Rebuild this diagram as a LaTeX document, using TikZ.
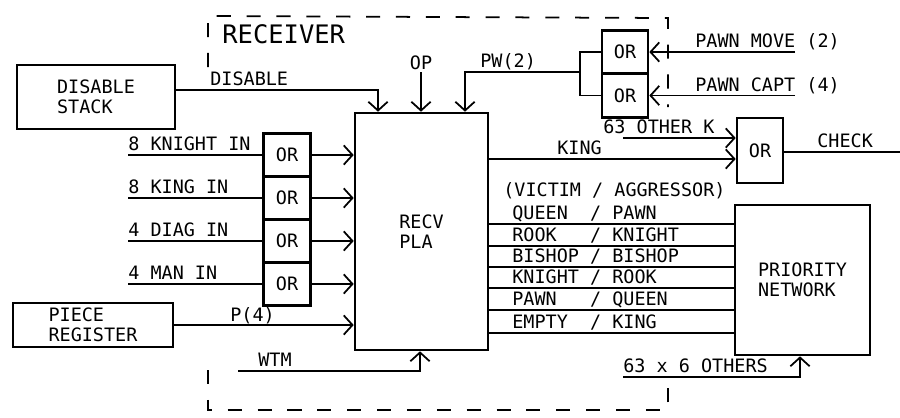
\documentclass[tikz,border=0pt]{standalone}
\usepackage{fontspec}
\newfontfamily\plotfont{DejaVu Sans Mono}
\usetikzlibrary{arrows.meta, positioning}

\begin{document}
\begin{tikzpicture}[x=0.02cm, y=-0.02cm,
  font=\plotfont\fontsize{10.5}{11.5}\selectfont,
  box/.style={draw, line width=1.5pt, inner sep=0pt, align=left},
  orgate/.style={box, minimum width=0.94cm, minimum height=0.86cm},
  wire/.style={line width=1pt},
  sig/.style={wire, -{Straight Barb[length=5pt, width=11pt]}},
  lbl/.style={anchor=base west, inner sep=0pt, yshift=2.5pt},
  frame/.style={line width=1pt, dash pattern=on 8pt off 9pt}]
\useasboundingbox (0,0) rectangle (900,417);

% receiver boundary
\draw[frame] (208,67) -- (208,16) -- (668,18) -- (668,107);
\draw[frame] (208,370) -- (208,410) -- (668,410) -- (668,385);
\node[lbl, yshift=0pt, font=\plotfont\fontsize{14.5}{17}\selectfont] (rcv) at (222,48) {RECEIVER};

% blocks
\node[box, minimum width=3.16cm, minimum height=1.28cm] (dstack) at (96,97) {DISABLE\\STACK};
\node[box, minimum width=3.2cm, minimum height=0.88cm] (preg) at (93,325) {PIECE\\REGISTER};
\node[box, minimum width=2.66cm, minimum height=4.74cm] (pla) at (421.5,231.5) {RECV\\PLA};
\node[box, minimum width=2.7cm, minimum height=3cm] (prio) at (802.5,280) {PRIORITY\\NETWORK};

% or gates
\node[orgate] (orkn) at (287,155) {OR};
\node[orgate, below=-1.5pt of orkn] (orkg) {OR};
\node[orgate, below=-1.5pt of orkg] (ordg) {OR};
\node[orgate, below=-1.5pt of ordg] (orman) {OR};
\node[orgate, minimum width=0.92cm, minimum height=0.87cm] (ormv) at (625,52) {OR};
\node[orgate, minimum width=0.92cm, minimum height=0.87cm, below=-1.5pt of ormv] (orcp) {OR};
\node[orgate, minimum width=0.92cm, minimum height=1.3cm] (orck) at (760,150.5) {OR};

% inputs on the left
\foreach \g/\t in {orkn/8 KNIGHT IN, orkg/8 KING IN, ordg/4 DIAG IN, orman/4 MAN IN} {
  \coordinate (\g-in) at (\g.west -| 128,0);
  \draw[wire] (\g-in) -- (\g.west);
  \node[lbl] (\g-lbl) at (\g-in) {\t};
  \draw[sig] (\g.east) -- (\g.east -| pla.west);
}
\draw[sig] (preg.east) -- (preg.east -| pla.west);
\node[lbl] (plbl) at (230,326) {P(4)};

\coordinate (wtm) at (238,371);
\draw[sig] (wtm) -| (420,0 |- pla.south);
\node[lbl] (wtmlbl) at (258,371) {WTM};

% inputs on top
\draw[sig] (dstack.east |- 0,90) -| (378,0 |- pla.north);
\node[lbl] (dislbl) at (210,90) {DISABLE};
\coordinate (op) at (421,72);
\draw[sig] (op) -- (op |- pla.north);
\node[anchor=south, inner sep=1pt] (oplbl) at (op) {OP};

\coordinate (pwj) at (580,72);
\draw[wire] (ormv.west) -| (pwj) |- (orcp.west);
\draw[sig] (pwj) -| (465,0 |- pla.north);
\node[lbl] (pwlbl) at (480,72) {PW(2)};

\coordinate (pmv) at (795,0 |- ormv.east);
\coordinate (pcp) at (795,0 |- orcp.east);
\draw[sig] (pmv) -- (ormv.east);
\draw[sig] (pcp) -- (orcp.east);
\node[lbl] (pmvlbl) at (695,0 |- pmv) {PAWN MOVE (2)};
\node[lbl] (pcplbl) at (695,0 |- pcp) {PAWN CAPT (4)};

% check
\coordinate (oth) at (623,138);
\draw[sig] (oth) -- (oth -| orck.west);
\node[lbl] (othlbl) at (603,138) {63 OTHER K};
\draw[sig] (pla.east |- 0,159) -- (orck.west |- 0,159);
\node[lbl] (kinglbl) at (557,159) {KING};
\coordinate (chk) at (900,152);
\draw[wire] (orck.east |- chk) -- (chk);
\node[lbl] (chklbl) at (817,152) {CHECK};

% victim / aggressor lines
\node[lbl, yshift=0pt] (vahead) at (503,201) {(VICTIM / AGGRESSOR)};
\foreach \y/\t [count=\i] in {224/{QUEEN\ \ /\ PAWN}, 246/{ROOK\ \ \ /\ KNIGHT},
    267/{BISHOP\ /\ BISHOP}, 288/{KNIGHT\ /\ ROOK}, 310/{PAWN\ \ \ /\ QUEEN},
    333/{EMPTY\ \ /\ KING}} {
  \draw[wire] (pla.east |- 0,\y) -- (prio.west |- 0,\y);
  \node[lbl] (va\i) at (512,\y) {\t};
}

\coordinate (oth6) at (623,377);
\draw[sig] (oth6) -| (800,0 |- prio.south);
\node[lbl] (oth6lbl) at (oth6) {63 x 6 OTHERS};
\end{tikzpicture}
\end{document}
